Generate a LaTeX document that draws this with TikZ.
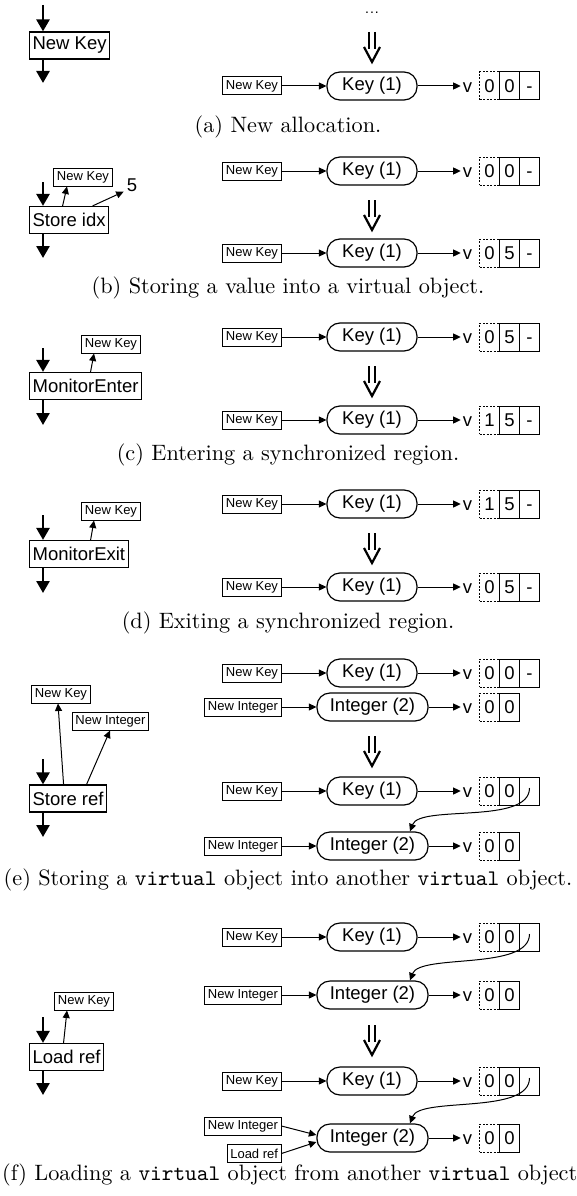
\documentclass[tikz,border=0pt]{standalone}
\usepackage{fontspec}
\newfontfamily\arial{Liberation Sans}
\newfontfamily\capfont{lmroman10-regular.otf}
\newfontfamily\captt{lmmono10-regular.otf}
\usetikzlibrary{arrows.meta,calc}
\tikzset{
  bigfont/.style={font=\arial\fontsize{18.5}{20}\selectfont},
  smallbox/.style={draw, line width=1pt, font=\arial\fontsize{13}{15}\selectfont, inner xsep=3pt, inner ysep=0pt, minimum height=18pt},
  opbox/.style={draw, line width=1.2pt, bigfont, inner xsep=3pt, inner ysep=0pt, minimum height=27pt},
  objbox/.style={draw, line width=1.2pt, rounded corners=13pt, bigfont, inner sep=0pt, minimum height=28pt},
  cell/.style={draw, line width=1pt, bigfont, inner sep=0pt, text height=13.3pt, text depth=0pt, minimum width=20pt, minimum height=28pt},
  dcell/.style={cell, dash pattern=on 2pt off 1.5pt},
  vlab/.style={bigfont, inner sep=0pt, text height=13.3pt, text depth=0pt},
  conn/.style={line width=1pt, -{Triangle[width=7pt,length=7.5pt]}},
  bigarrow/.style={line width=2.6pt, -{Triangle[width=13pt,length=12pt]}},
  dblarrow/.style={line width=2.2pt},
  captext/.style={font=\capfont\fontsize{22.25}{26}\selectfont, inner sep=0pt},
}
\newcommand\keyrow[5]{%
  \node[smallbox, anchor=east] (#1s) at (281.5,#2) {New Key};
  \node[objbox, minimum width=90pt] (#1o) at (372,#2) {Key (1)};
  \node[vlab] (#1v) at (467.5,#2) {v};
  \node[dcell] (#1c1) at (489.5,#2) {#3};
  \node[cell] (#1c2) at (509.5,#2) {#4};
  \node[cell] (#1c3) at (529.5,#2) {#5};
  \draw[conn] (#1s) -- (#1o);
  \draw[conn, shorten >=2pt] (#1o) -- (#1o -| #1v.west);
}
\newcommand\introw[2]{%
  \node[smallbox, anchor=east] (#1s) at (281.5,#2) {New Integer};
  \node[objbox, minimum width=111pt] (#1o) at (372.5,#2) {Integer (2)};
  \node[vlab] (#1v) at (467.5,#2) {v};
  \node[dcell] (#1c1) at (489.5,#2) {0};
  \node[cell] (#1c2) at (509.5,#2) {0};
  \draw[conn] (#1s) -- (#1o);
  \draw[conn, shorten >=2pt] (#1o) -- (#1o -| #1v.west);
}
\newcommand\dblarr[2]{%
  \draw[dblarrow] (#1-2.8,#2) -- (#1-2.8,#2+17) (#1+2.8,#2) -- (#1+2.8,#2+17);
  \draw[dblarrow, line join=miter] (#1-8,#2+15) -- (#1,#2+30) -- (#1+8,#2+15);
}
\newcommand\refcurve[2]{%
  \draw[conn] ([yshift=3pt]#1c3.center) .. controls +(0,37) and +(10,-27) .. ([xshift=37.5pt]#2o.north);
}
\begin{document}
\begin{tikzpicture}[x=1pt,y=-1pt]
\fill[white] (0,0) rectangle (576,1196);
\useasboundingbox (0,0) rectangle (576,1196);

% ---------- (a)
\node[opbox, anchor=west] (aOp) at (29,45.5) {New Key};
\coordinate (aIn) at (43,5);
\coordinate (aOut) at (43,83);
\draw[bigarrow] (aIn) -- (aIn |- aOp.north);
\draw[bigarrow] (aOut |- aOp.south) -- (aOut);
\node[font=\arial\fontsize{14}{16}\selectfont, inner sep=0pt, text height=2pt, text depth=0pt, anchor=base] (aDots) at (372,13.5) {.\kern1pt.\kern1pt.};
\dblarr{372}{32}
\keyrow{a}{86}{0}{0}{-}
\node[captext] (capA) at (288,127) {(a) New allocation.};

% ---------- (b)
\node[opbox, anchor=west] (bOp) at (29,220) {Store idx};
\node[smallbox] (bK) at (83,177) {New Key};
\node[bigfont, inner sep=0pt] (bFive) at (132,185) {5};
\coordinate (bIn) at (43,182);
\coordinate (bOut) at (43,258);
\draw[bigarrow] (bIn) -- (bIn |- bOp.north);
\draw[bigarrow] (bOut |- bOp.south) -- (bOut);
\draw[conn] ([xshift=-6.5pt]bOp.north) -- ([xshift=-16pt]bK.south);
\draw[conn] ([xshift=23.5pt]bOp.north) -- ([xshift=-3pt]bFive.south west);
\keyrow{bA}{171}{0}{0}{-}
\dblarr{372}{200}
\keyrow{bB}{253}{0}{5}{-}
\node[captext] (capB) at (288,288) {(b) Storing a value into a virtual object.};

% ---------- (c)
\node[opbox, anchor=west] (cOp) at (29,386) {MonitorEnter};
\node[smallbox] (cK) at (111,344) {New Key};
\coordinate (cIn) at (43,348);
\coordinate (cOut) at (43,425);
\draw[bigarrow] (cIn) -- (cIn |- cOp.north);
\draw[bigarrow] (cOut |- cOp.south) -- (cOut);
\draw[conn] ([xshift=5pt]cOp.north) -- ([xshift=-17pt]cK.south);
\keyrow{cA}{337}{0}{5}{-}
\dblarr{372}{366}
\keyrow{cB}{420}{1}{5}{-}
\node[captext] (capC) at (288,455) {(c) Entering a synchronized region.};

% ---------- (d)
\node[opbox, anchor=west] (dOp) at (29,554) {MonitorExit};
\node[smallbox] (dK) at (111,511) {New Key};
\coordinate (dIn) at (43,515);
\coordinate (dOut) at (43,593);
\draw[bigarrow] (dIn) -- (dIn |- dOp.north);
\draw[bigarrow] (dOut |- dOp.south) -- (dOut);
\draw[conn] ([xshift=11.75pt]dOp.north) -- ([xshift=-17pt]dK.south);
\keyrow{dA}{504}{1}{5}{-}
\dblarr{372}{533}
\keyrow{dB}{587}{0}{5}{-}
\node[captext] (capD) at (288,623) {(d) Exiting a synchronized region.};

% ---------- (e)
\node[opbox, anchor=west] (eOp) at (29,798.5) {Store ref};
\node[smallbox] (eK) at (61,694) {New Key};
\node[smallbox] (eI) at (110.5,721) {New Integer};
\coordinate (eIn) at (43,759);
\coordinate (eOut) at (43,837);
\draw[bigarrow] (eIn) -- (eIn |- eOp.north);
\draw[bigarrow] (eOut |- eOp.south) -- (eOut);
\draw[conn] ([xshift=-4.5pt]eOp.north) -- ([xshift=-3pt]eK.south);
\draw[conn] ([xshift=18.5pt]eOp.north) -- ([xshift=-0.5pt]eI.south);
\keyrow{eA}{673}{0}{0}{-}
\introw{eB}{707}
\dblarr{372}{736}
\keyrow{eC}{791}{0}{0}{}
\introw{eD}{846}
\refcurve{eC}{eD}
\node[captext] (capE) at (288,880) {(e) Storing a {\captt virtual} object into another {\captt virtual} object.};

% ---------- (f)
\node[opbox, anchor=west] (fOp) at (29,1057) {Load ref};
\node[smallbox] (fK) at (84,1001) {New Key};
\coordinate (fIn) at (43,1017);
\coordinate (fOut) at (43,1095);
\draw[bigarrow] (fIn) -- (fIn |- fOp.north);
\draw[bigarrow] (fOut |- fOp.south) -- (fOut);
\draw[conn] ([xshift=-3pt]fOp.north) -- ([xshift=-17pt]fK.south);
\keyrow{fA}{937}{0}{0}{}
\introw{fB}{995}
\refcurve{fA}{fB}
\dblarr{372}{1025}
\keyrow{fC}{1081}{0}{0}{}
% last row with two inputs
\node[smallbox, anchor=east] (fDs) at (281.5,1126) {New Integer};
\node[smallbox, anchor=east] (fDl) at (281.5,1153.5) {Load ref};
\node[objbox, minimum width=111pt] (fDo) at (372.5,1138) {Integer (2)};
\node[vlab] (fDv) at (467.5,1138) {v};
\node[dcell] (fDc1) at (489.5,1138) {0};
\node[cell] (fDc2) at (509.5,1138) {0};
\draw[conn] (fDs.east) -- ([yshift=3pt]fDo.west);
\draw[conn] (fDl.east) -- ([yshift=-4pt]fDo.west);
\draw[conn, shorten >=2pt] (fDo) -- (fDo -| fDv.west);
\refcurve{fC}{fD}
\node[captext, anchor=west] (capF) at (2,1175) {(f) Loading a {\captt virtual} object from another {\captt virtual} object};
\end{tikzpicture}
\end{document}
